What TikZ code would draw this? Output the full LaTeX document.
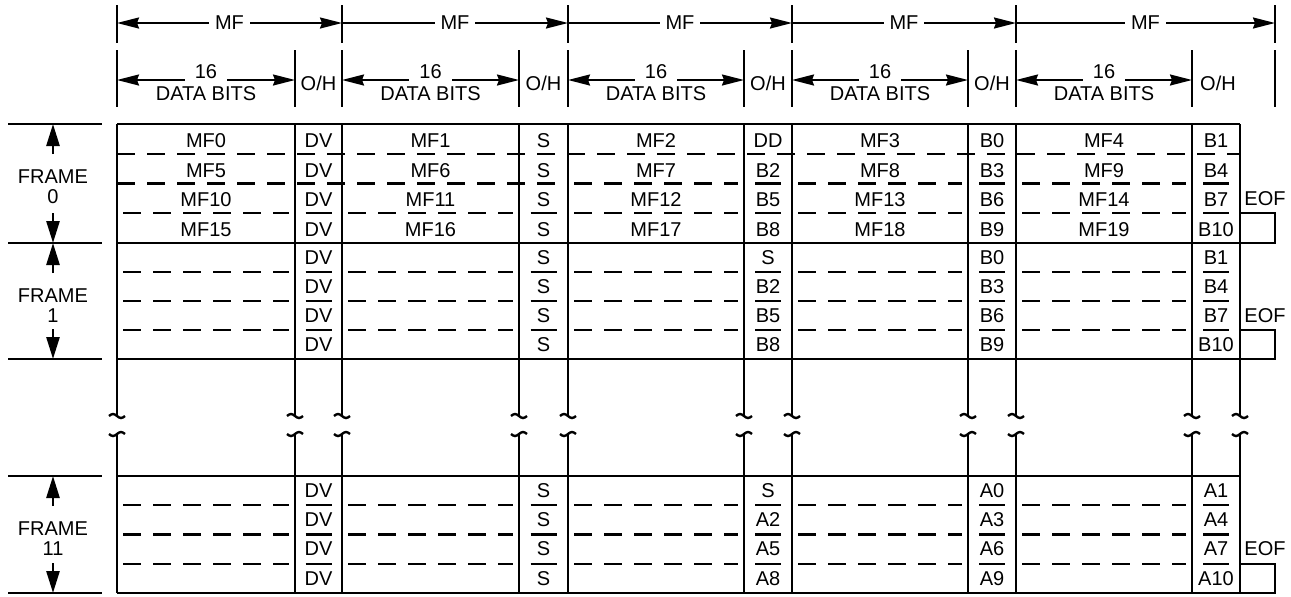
\documentclass[tikz,border=0pt]{standalone}
\usepackage{fontspec}
\setmainfont{Liberation Sans}
\usetikzlibrary{arrows.meta}
\tikzset{
 gridrule/.style={line width=1.4pt},
 rowdash/.style={line width=1.1pt,dash pattern=on 9pt off 6pt},
 ohbar/.style={line width=1.1pt},
 dimline/.style={line width=1pt},
 dimright/.style={dimline,-{Stealth[length=11pt,width=5.5pt,inset=1pt]}},
 dimboth/.style={dimline,{Stealth[length=11pt,width=5.5pt,inset=1pt]}-{Stealth[length=11pt,width=5.5pt,inset=1pt]}},
 divider/.style={line width=1.1pt},
 framearrow/.style={line width=1.3pt,-{Triangle[length=11pt,width=6.5pt]}},
 breakcap/.style={line width=1.2pt},
 cell/.style={inner sep=0pt,font=\fontsize{10}{11}\selectfont},
 gapcell/.style={cell,fill=white,inner xsep=3pt,inner ysep=3pt},
 bitscell/.style={cell,fill=white,inner xsep=5pt,inner ysep=3pt},
 eofbox/.style={line width=1.2pt}
}

\begin{document}
\begin{tikzpicture}[x=0.5pt,y=-0.5pt]
\path[use as bounding box] (0,0) rectangle (1291,596);
\foreach \x in {117,342,568,792,1016,1275} \draw[divider] (\x,5) -- (\x,43);
\foreach \x in {117,295,342,519,568,744,792,968,1016,1192,1275} \draw[divider] (\x,50) -- (\x,107);
\coordinate (mf0) at (117,23);
\coordinate (mf1) at (342,23);
\coordinate (mf2) at (568,23);
\coordinate (mf3) at (792,23);
\coordinate (mf4) at (1016,23);
\coordinate (mf5) at (1275,23);
\draw[dimboth] (mf0) -- node[gapcell] (mflbl1) {MF} (mf1);
\draw[dimright] (mf1) -- node[gapcell] (mflbl2) {MF} (mf2);
\draw[dimright] (mf2) -- node[gapcell] (mflbl3) {MF} (mf3);
\draw[dimright] (mf3) -- node[gapcell] (mflbl4) {MF} (mf4);
\draw[dimright] (mf4) -- node[gapcell] (mflbl5) {MF} (mf5);
\foreach \k/\l/\r in {1/117/295,2/342/519,3/568/744,4/792/968,5/1016/1192} {
  \coordinate (dl\k) at (\l,80);
  \coordinate (dr\k) at (\r,80);
  \draw[dimboth] (dl\k) -- (dr\k);
  \node[bitscell] (sixteen\k) at ({(\l+\r)/2},72) {16};
  \node[cell] (databits\k) at ({(\l+\r)/2},94) {DATA BITS};
}
\foreach \k/\x in {1/318.5,2/543.5,3/768,4/992,5/1218} \node[cell] (oh\k) at (\x,83) {O/H};

\foreach \i/\x in {0/117,1/295,2/342,3/519,4/568,5/744,6/792,7/968,8/1016,9/1192,10/1240} {
  \coordinate (top\i) at (\x,124);
  \coordinate (brk\i) at (\x,417);
  \coordinate (rst\i) at (\x,433);
  \coordinate (bot\i) at (\x,593);
  \draw[gridrule] (top\i) -- (brk\i);
  \draw[gridrule] (rst\i) -- (bot\i);
  \draw[breakcap] (brk\i) ++(-8,-1) sin ++(4,-2) cos ++(4,2) sin ++(4,2) cos ++(4,-2);
  \draw[breakcap] (rst\i) ++(-8,1) sin ++(4,2) cos ++(4,-2) sin ++(4,-2) cos ++(4,2);
}
\foreach \y in {124,243,359,476,593} {
  \draw[gridrule] (117,\y) -- (1240,\y);
  \draw[gridrule] (8,\y) -- (102,\y);
}

\draw[rowdash] (117,153.75) -- (1240,153.75);
\draw[rowdash] (117,183.5) -- (568,183.5);
\foreach \l/\r in {568/744,792/968,1016/1192} \draw[rowdash] ({\l+6},183.5) -- ({\r-6},183.5);
\foreach \x in {768,992,1216} \draw[ohbar] ({\x-13},183.5) -- ({\x+13},183.5);
\foreach \y in {213.25,272,301,330,505.25,534.5,563.75} {
  \foreach \l/\r in {117/295,342/519,568/744,792/968,1016/1192} \draw[rowdash] ({\l+6},\y) -- ({\r-6},\y);
  \foreach \x in {318.5,543.5,768,992,1216} \draw[ohbar] ({\x-13},\y) -- ({\x+13},\y);
}

\foreach \k/\x/\t in {1/206/MF0,2/318.5/DV,3/430.5/MF1,4/543.5/S,5/656/MF2,6/768/DD,7/880/MF3,8/992/B0,9/1104/MF4,10/1216/B1} \node[cell] (fza\k) at (\x,141) {\t};
\foreach \k/\x/\t in {1/206/MF5,2/318.5/DV,3/430.5/MF6,4/543.5/S,5/656/MF7,6/768/B2,7/880/MF8,8/992/B3,9/1104/MF9,10/1216/B4} \node[cell] (fzb\k) at (\x,170.5) {\t};
\foreach \k/\x/\t in {1/206/MF10,2/318.5/DV,3/430.5/MF11,4/543.5/S,5/656/MF12,6/768/B5,7/880/MF13,8/992/B6,9/1104/MF14,10/1216/B7} \node[cell] (fzc\k) at (\x,200) {\t};
\foreach \k/\x/\t in {1/206/MF15,2/318.5/DV,3/430.5/MF16,4/543.5/S,5/656/MF17,6/768/B8,7/880/MF18,8/992/B9,9/1104/MF19,10/1216/B10} \node[cell] (fzd\k) at (\x,230) {\t};

\foreach \k/\x/\t in {1/318.5/DV,2/543.5/S,3/768/S,4/992/B0,5/1216/B1} \node[cell] (foa\k) at (\x,257.5) {\t};
\foreach \k/\x/\t in {1/318.5/DV,2/543.5/S,3/768/B2,4/992/B3,5/1216/B4} \node[cell] (fob\k) at (\x,286.5) {\t};
\foreach \k/\x/\t in {1/318.5/DV,2/543.5/S,3/768/B5,4/992/B6,5/1216/B7} \node[cell] (foc\k) at (\x,315.5) {\t};
\foreach \k/\x/\t in {1/318.5/DV,2/543.5/S,3/768/B8,4/992/B9,5/1216/B10} \node[cell] (fod\k) at (\x,344.5) {\t};

\foreach \k/\x/\t in {1/318.5/DV,2/543.5/S,3/768/S,4/992/A0,5/1216/A1} \node[cell] (fea\k) at (\x,490.6) {\t};
\foreach \k/\x/\t in {1/318.5/DV,2/543.5/S,3/768/A2,4/992/A3,5/1216/A4} \node[cell] (feb\k) at (\x,519.9) {\t};
\foreach \k/\x/\t in {1/318.5/DV,2/543.5/S,3/768/A5,4/992/A6,5/1216/A7} \node[cell] (fec\k) at (\x,549.1) {\t};
\foreach \k/\x/\t in {1/318.5/DV,2/543.5/S,3/768/A8,4/992/A9,5/1216/A10} \node[cell] (fed\k) at (\x,578.4) {\t};

\foreach \f/\t/\b/\y/\s in {0/124/243/199/213.25,1/243/359/316/330,11/476/593/549/563.75} {
  \coordinate (upfrom\f) at (53,{\t+30});
  \coordinate (upto\f) at (53,\t);
  \coordinate (dnfrom\f) at (53,{\b-30});
  \coordinate (dnto\f) at (53,\b);
  \draw[framearrow] (upfrom\f) -- (upto\f);
  \draw[framearrow] (dnfrom\f) -- (dnto\f);
  \node[cell] (frame\f) at (53,{\t+53}) {FRAME};
  \node[cell] (framenum\f) at (53,{\t+73}) {\f};
  \node[cell,anchor=west] (eof\f) at (1244,\y) {EOF};
  \draw[eofbox] (1240,\s) rectangle (1275,\b);
}
\end{tikzpicture}
\end{document}
